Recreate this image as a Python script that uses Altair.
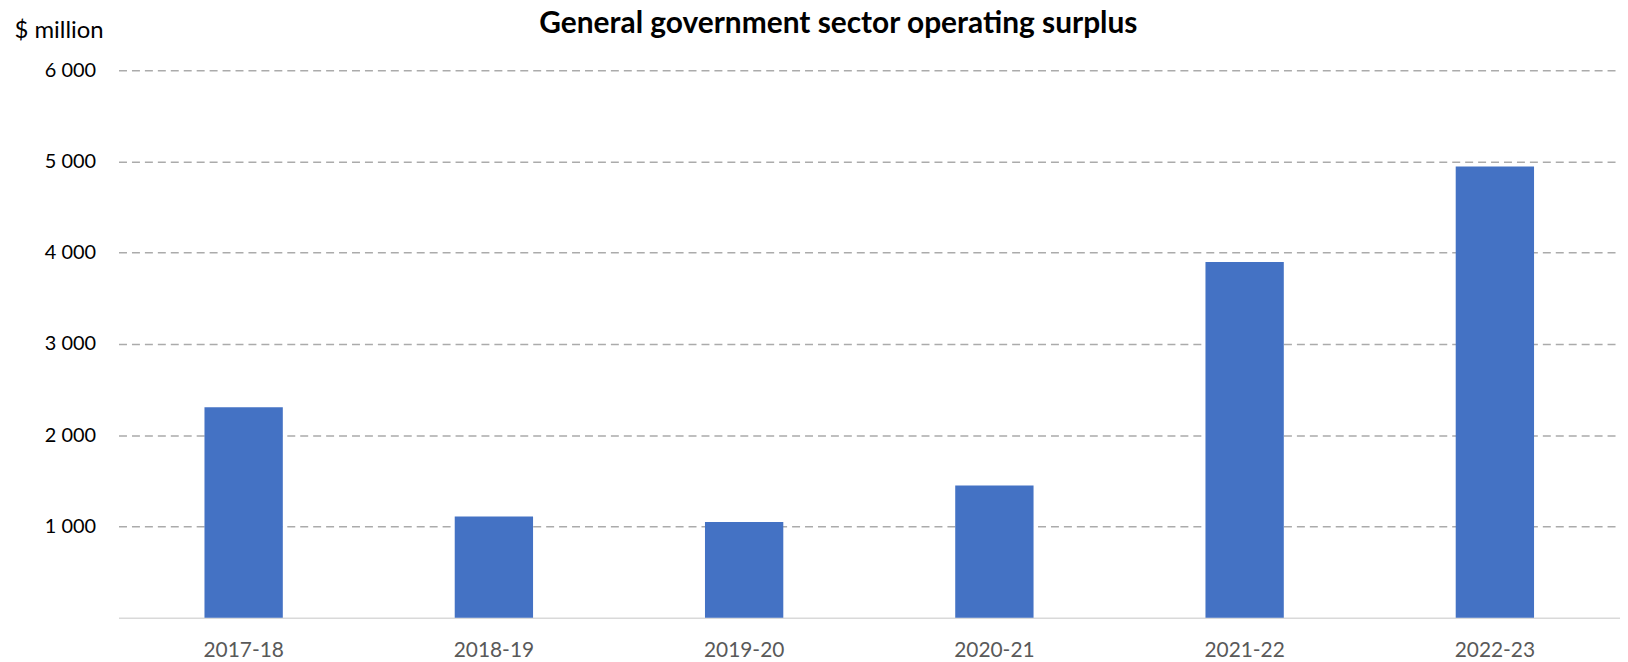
import altair as alt
import pandas as pd

years = ["2017-18", "2018-19", "2019-20", "2020-21", "2021-22", "2022-23"]
surplus = [2307, 1109, 1048, 1448, 3897, 4945]
y_ticks = [1000, 2000, 3000, 4000, 5000, 6000]

df = pd.DataFrame({"year": years, "surplus": surplus})

FONT = "Lato"

chart = alt.Chart(df).mark_bar(color="#4472C4").encode(
    x=alt.X(
        "year:N",
        sort=years,
        scale=alt.Scale(paddingInner=0.687, paddingOuter=0.3435),
        axis=alt.Axis(
            title=None,
            labelAngle=0,
            labelFont=FONT,
            labelFontSize=21,
            labelColor="#595959",
            labelPadding=22,
            ticks=False,
            domainColor="#d9d9d9",
            domainWidth=1.5,
            grid=False,
        ),
    ),
    y=alt.Y(
        "surplus:Q",
        scale=alt.Scale(domain=[0, 6000], nice=False),
        axis=alt.Axis(
            title="$ million",
            titleAngle=0,
            titleAlign="left",
            titleBaseline="middle",
            titleX=-105,
            titleY=-40,
            titleFont=FONT,
            titleFontSize=24,
            titleFontWeight="normal",
            titleColor="#000000",
            values=y_ticks,
            labelExpr="replace(format(datum.value, ','), ',', ' ')",
            labelFont=FONT,
            labelFontSize=20,
            labelColor="#000000",
            labelPadding=23,
            ticks=False,
            domain=False,
            grid=True,
            gridColor="#ababab",
            gridDash=[8, 5],
            gridWidth=1.5,
        ),
    ),
).properties(
    width=1508,
    height=550,
    padding={"left": 6, "top": 0, "right": 0, "bottom": 0},
    title=alt.TitleParams(
        "General government sector operating surplus",
        font=FONT,
        fontSize=30,
        fontWeight="bold",
        color="#000000",
        anchor="middle",
        dx=-31,
        offset=-21,
    ),
).configure_view(stroke=None)

chart.save("out.html", embed_options={"renderer": "svg", "actions": False})
